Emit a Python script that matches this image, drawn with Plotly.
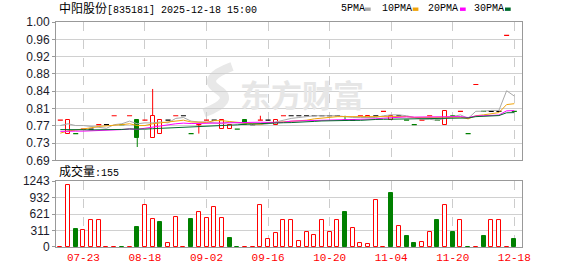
import numpy as np
import pandas as pd
import plotly.graph_objects as go

# ---------------- data ----------------
title_code = "[835181] 2025-12-18 15:00"
title_name = "中阳股份"
date_labels = ["07-23", "08-18", "09-02", "09-16", "10-20", "11-04", "11-20", "12-18"]
date_label_idx = [3, 11, 19, 27, 35, 43, 51, 59]

price_tick_labels = ["0.69", "0.73", "0.77", "0.81", "0.84", "0.88", "0.92", "0.96", "1.00"]
vol_tick_labels = ["0", "311", "621", "932", "1243"]
price_min, price_max = 0.69, 1.00
vol_max = 1243

open_ = [0.78, 0.75, 0.75, 0.76, 0.76, 0.77, 0.77, 0.79, 0.77, 0.79,
         0.78, 0.78, 0.74, 0.75, 0.78, 0.79, 0.79, 0.75, 0.77, 0.78,
         0.78, 0.76, 0.76, 0.76, 0.78, 0.77, 0.78, 0.78, 0.77, 0.79,
         0.79, 0.79, 0.79, 0.79, 0.79, 0.79, 0.79, 0.78, 0.78, 0.79,
         0.785, 0.79, 0.80, 0.78, 0.79, 0.78, 0.77, 0.78, 0.79, 0.78,
         0.77, 0.79, 0.80, 0.75, 0.86, 0.80, 0.80, 0.80, 0.97, 0.80]
high = [0.78, 0.78, 0.75, 0.76, 0.76, 0.77, 0.77, 0.79, 0.77, 0.79,
        0.78, 0.78, 0.85, 0.78, 0.78, 0.79, 0.79, 0.75, 0.77, 0.78,
        0.78, 0.78, 0.77, 0.76, 0.78, 0.77, 0.79, 0.78, 0.78, 0.79,
        0.79, 0.79, 0.79, 0.79, 0.79, 0.79, 0.79, 0.79, 0.78, 0.79,
        0.79, 0.79, 0.80, 0.79, 0.79, 0.78, 0.77, 0.78, 0.79, 0.78,
        0.80, 0.79, 0.80, 0.75, 0.86, 0.80, 0.80, 0.80, 0.97, 0.80]
low = [0.78, 0.75, 0.75, 0.76, 0.76, 0.77, 0.77, 0.79, 0.77, 0.79,
       0.72, 0.78, 0.74, 0.75, 0.78, 0.79, 0.79, 0.75, 0.75, 0.78,
       0.78, 0.76, 0.76, 0.76, 0.77, 0.77, 0.78, 0.78, 0.77, 0.79,
       0.79, 0.79, 0.79, 0.79, 0.79, 0.79, 0.79, 0.78, 0.78, 0.79,
       0.785, 0.79, 0.80, 0.78, 0.79, 0.78, 0.77, 0.78, 0.79, 0.78,
       0.77, 0.79, 0.80, 0.75, 0.86, 0.80, 0.80, 0.80, 0.97, 0.80]
close = [0.78, 0.78, 0.75, 0.76, 0.76, 0.77, 0.77, 0.79, 0.77, 0.79,
         0.74, 0.78, 0.79, 0.78, 0.78, 0.79, 0.79, 0.75, 0.77, 0.78,
         0.78, 0.78, 0.77, 0.76, 0.77, 0.77, 0.78, 0.78, 0.78, 0.79,
         0.79, 0.79, 0.79, 0.79, 0.79, 0.79, 0.79, 0.78, 0.78, 0.79,
         0.79, 0.79, 0.80, 0.79, 0.79, 0.78, 0.77, 0.78, 0.79, 0.78,
         0.80, 0.79, 0.80, 0.75, 0.86, 0.80, 0.80, 0.80, 0.97, 0.80]
volume = [4, 1164, 346, 320, 506, 506, 4, 4, 4, 4,
          382, 782, 527, 479, 67, 564, 4, 527, 655, 545,
          745, 545, 170, 4, 4, 4, 800, 145, 267, 506,
          506, 120, 291, 218, 506, 291, 506, 660, 364, 73,
          48, 891, 4, 1018, 400, 200, 73, 85, 273, 506,
          800, 291, 506, 4, 4, 200, 506, 506, 4, 155]
# closes before the first visible bar, estimated from where the MA lines start
prior_closes = [0.77, 0.77, 0.76, 0.77, 0.77, 0.76, 0.77, 0.77, 0.76, 0.77,
                0.76, 0.76, 0.76, 0.75, 0.76, 0.76, 0.76, 0.76, 0.76, 0.76,
                0.73, 0.73, 0.74, 0.73, 0.74,
                0.76, 0.77, 0.76, 0.77]

ma_periods = [5, 10, 20, 30]
ma_names = ["5PMA", "10PMA", "20PMA", "30PMA"]
ma_colors = ["#a8a8a8", "#f0a30a", "#ff00ff", "#006b2d"]

RED = "#ff0000"
GREEN = "#008000"
BLACK = "#000000"

# ---------------- derived ----------------
n = len(close)
idx = list(range(n))
prev_close = [prior_closes[-1]] + close[:-1]

all_close = pd.Series(prior_closes + close)
ma_values = {p: all_close.rolling(p, min_periods=1).mean().iloc[len(prior_closes):].tolist()
             for p in ma_periods}


def candle_color(i):
    if close[i] > open_[i]:
        return RED
    if close[i] < open_[i]:
        return GREEN
    if close[i] > prev_close[i]:
        return RED
    if close[i] < prev_close[i]:
        return GREEN
    return BLACK


colors = [candle_color(i) for i in idx]

fig = go.Figure()

# candle bodies
up = [i for i in idx if close[i] > open_[i]]
dn = [i for i in idx if close[i] < open_[i]]
fig.add_trace(go.Bar(x=up, base=[open_[i] for i in up], y=[close[i] - open_[i] for i in up],
                     width=0.52, marker=dict(color="white", line=dict(color=RED, width=1)),
                     xaxis="x", yaxis="y", hoverinfo="skip"))
fig.add_trace(go.Bar(x=dn, base=[close[i] for i in dn], y=[open_[i] - close[i] for i in dn],
                     width=0.52, marker=dict(color=GREEN, line=dict(color=GREEN, width=1)),
                     xaxis="x", yaxis="y", hoverinfo="skip"))

# wicks
for col in (RED, GREEN, BLACK):
    xs, ys = [], []
    for i in idx:
        if colors[i] != col:
            continue
        top = max(open_[i], close[i])
        bot = min(open_[i], close[i])
        if high[i] > top:
            xs += [i, i, None]
            ys += [top, high[i], None]
        if low[i] < bot:
            xs += [i, i, None]
            ys += [bot, low[i], None]
    if xs:
        fig.add_trace(go.Scatter(x=xs, y=ys, mode="lines", line=dict(color=col, width=1),
                                 xaxis="x", yaxis="y", hoverinfo="skip"))

# flat candles (open == close) drawn as dashes
flat = [i for i in idx if close[i] == open_[i]]
fcol = [colors[i] for i in flat]
fig.add_trace(go.Scatter(x=flat, y=[close[i] for i in flat], mode="markers",
                         marker=dict(symbol="line-ew", size=3.6, color=fcol,
                                     line=dict(color=fcol, width=1.2)),
                         xaxis="x", yaxis="y", hoverinfo="skip"))

# moving averages
for p, c in zip(ma_periods, ma_colors):
    fig.add_trace(go.Scatter(x=idx, y=ma_values[p], mode="lines", line=dict(color=c, width=1),
                             xaxis="x", yaxis="y", hoverinfo="skip"))

# volume
vup = [i for i in idx if close[i] >= prev_close[i]]
vdn = [i for i in idx if close[i] < prev_close[i]]
fig.add_trace(go.Bar(x=vup, y=[volume[i] for i in vup], width=0.52,
                     marker=dict(color="white", line=dict(color=RED, width=1)),
                     xaxis="x2", yaxis="y2", hoverinfo="skip"))
fig.add_trace(go.Bar(x=vdn, y=[volume[i] for i in vdn], width=0.52,
                     marker=dict(color=GREEN, line=dict(color=GREEN, width=1)),
                     xaxis="x2", yaxis="y2", hoverinfo="skip"))

# ---------------- layout ----------------
W, H = 578, 276
ML, MR, MT, MB = 56, 56, 22, 21
PW, PH = W - ML - MR, H - MT - MB


def px_x(x):
    return (x - ML) / PW


def px_y(y):
    return (H - MB - y) / PH


price_dom = [px_y(165.3), 1.0]
vol_dom = [0.0, px_y(186.7)]
x_range = [-0.56, n + 0.0]

price_tickvals = list(np.linspace(price_min, price_max, len(price_tick_labels)))
vol_tickvals = list(np.linspace(0, vol_max, len(vol_tick_labels)))

axis_common = dict(showline=True, linecolor="#999999", linewidth=1, mirror=True, zeroline=False)
label_font = dict(family="Liberation Sans, Arial, sans-serif", size=12, color="#1a1a2a")

fig.update_layout(
    width=W, height=H, margin=dict(l=ML, r=MR, t=MT, b=MB),
    paper_bgcolor="white", plot_bgcolor="white", showlegend=False,
    barmode="overlay", bargap=0,
    xaxis=dict(domain=[0, 1], anchor="y", range=x_range, tickvals=date_label_idx,
               showticklabels=False, ticks="", showgrid=True, gridcolor="#cccccc",
               griddash="dash", gridwidth=1, **axis_common),
    yaxis=dict(domain=price_dom, anchor="x", range=[price_min, price_max],
               tickvals=price_tickvals, ticktext=price_tick_labels, ticks="outside",
               ticklen=3, tickcolor="#999999", showgrid=True, gridcolor="#d0d0d0",
               gridwidth=1, tickfont=label_font, **axis_common),
    xaxis2=dict(domain=[0, 1], anchor="y2", range=x_range, tickvals=date_label_idx,
                ticktext=date_labels, ticks="", showgrid=True, gridcolor="#cccccc",
                griddash="dash", gridwidth=1,
                tickfont=dict(family="Liberation Mono, monospace", size=11, color="#ff0000"),
                **axis_common),
    yaxis2=dict(domain=vol_dom, anchor="x2", range=[0, vol_max], tickvals=vol_tickvals,
                ticktext=vol_tick_labels, ticks="outside", ticklen=3, tickcolor="#999999",
                showgrid=True, gridcolor="#d0d0d0", gridwidth=1, tickfont=label_font,
                **axis_common),
)

mono = "Liberation Mono, Noto Sans CJK SC, monospace"
annotations = []
# title
annotations.append(dict(
    text='<span style="font-family:Noto Sans CJK SC;font-size:12px">' + title_name + '</span>' + title_code,
    xref="paper", yref="paper", x=px_x(57), y=px_y(7.5), xanchor="left", yanchor="middle",
    showarrow=False, font=dict(family=mono, size=10, color="#000000")))
# volume label
annotations.append(dict(
    text='<span style="font-family:Noto Sans CJK SC;font-size:12px">成交量</span>:' + str(volume[-1]),
    xref="paper", yref="paper", x=px_x(57), y=px_y(176), xanchor="left", yanchor="middle",
    showarrow=False, font=dict(family=mono, size=10, color="#000000")))
# watermark text
annotations.append(dict(
    text="东方财富", xref="paper", yref="paper", x=px_x(302), y=px_y(96),
    xanchor="center", yanchor="middle", showarrow=False,
    font=dict(family="Noto Sans CJK SC", size=31, color="#e6e6e6", weight="bold")))

legend_text_x = [339, 380, 425.7, 471.7]
legend_sq_x = [365, 412.7, 460, 505]
shapes = []
for name, c, tx, sx in zip(ma_names, ma_colors, legend_text_x, legend_sq_x):
    annotations.append(dict(text=name, xref="paper", yref="paper", x=px_x(tx), y=px_y(8.5),
                            xanchor="left", yanchor="middle", showarrow=False,
                            font=dict(family=mono, size=10, color="#000000")))
    shapes.append(dict(type="rect", xref="paper", yref="paper", x0=px_x(sx), x1=px_x(sx + 5.7),
                       y0=px_y(10.5), y1=px_y(7), fillcolor=c, line=dict(width=0)))

# watermark logo (faint swoosh)
logo_pts = [(232, 68), (200, 80), (218, 92), (236, 104), (204, 116)]
p = [(px_x(a), px_y(b)) for a, b in logo_pts]
logo_path = "M {} {} Q {} {} {} {} Q {} {} {} {}".format(
    p[0][0], p[0][1], p[1][0], p[1][1], p[2][0], p[2][1], p[3][0], p[3][1], p[4][0], p[4][1])
shapes.append(dict(type="path", xref="paper", yref="paper", path=logo_path,
                   line=dict(color="#e8e8e8", width=9), layer="below"))

fig.update_layout(annotations=annotations, shapes=shapes)

fig.write_html("out.html")
